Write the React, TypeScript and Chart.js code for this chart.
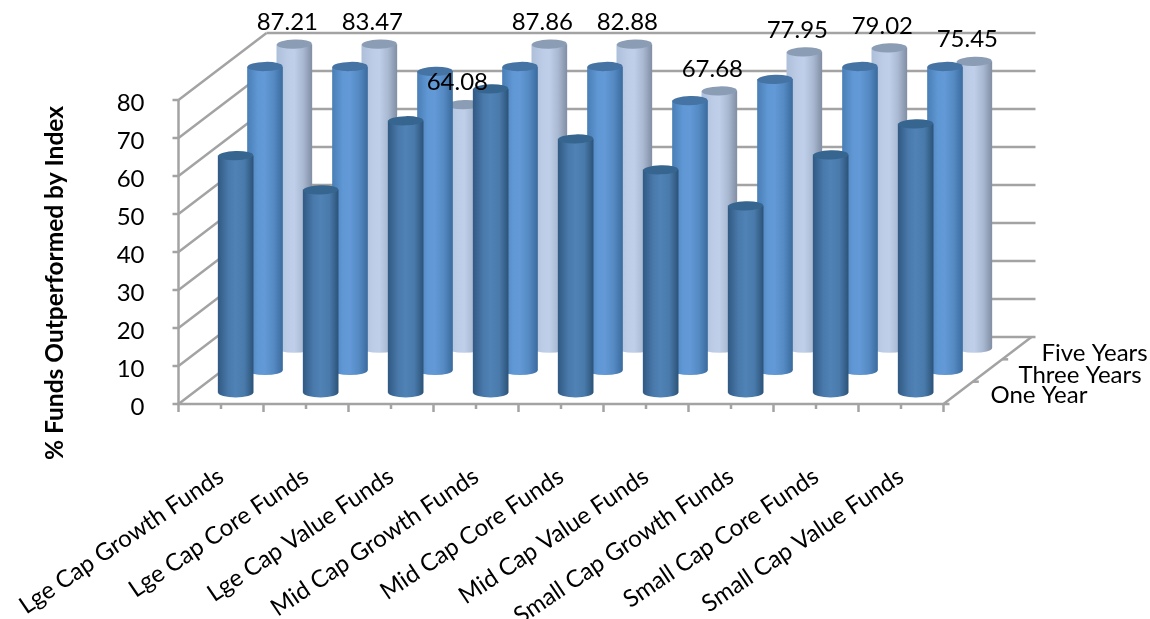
import React, { useEffect, useRef } from "react";
import { Chart, registerables } from "chart.js";

Chart.register(...registerables);

const categories = [
  "Lge Cap Growth Funds",
  "Lge Cap Core Funds",
  "Lge Cap Value Funds",
  "Mid Cap Growth Funds",
  "Mid Cap Core Funds",
  "Mid Cap Value Funds",
  "Small Cap Growth Funds",
  "Small Cap Core Funds",
  "Small Cap Value Funds",
];
const oneYear = [62.4, 53.4, 71.6, 80.0, 66.8, 58.7, 49.2, 62.6, 70.8];
const threeYears = [80.0, 80.0, 78.7, 80.0, 80.0, 71.0, 76.6, 80.0, 80.0];
const fiveYears = [87.21, 83.47, 64.08, 87.86, 82.88, 67.68, 77.95, 79.02, 75.45];

const FONT = "Lato";
const GRID = "#a3a3a3";
const TEXT = "#000000";
const AXIS_MAX = 80;
const AXIS_STEP = 10;

// Oblique depth of the floor: full depth vector, split evenly over three rows.
const DEPTH_X = 88;
const DEPTH_Y = -67;
const ROWS = 3;
const BAR_WIDTH = 35;
const CAP_RY = 4.6;

const rowPalettes = [
  { stops: ["#315a84", "#4a7aac", "#5082b6", "#497aab", "#2d5479"], cap: "#36658f" },
  { stops: ["#4a7fb6", "#6098d5", "#6299d6", "#558ac3", "#3b6c9f"], cap: "#4473a4" },
  { stops: ["#aebfda", "#bccce7", "#c0cfe9", "#aab9d2", "#828fa5"], cap: "#8b9db5" },
];

const rowOffset = (row: number) => ({
  dx: (DEPTH_X * (row + 0.5)) / ROWS,
  dy: (DEPTH_Y * (row + 0.5)) / ROWS,
});

const cylinderGradient = (c: CanvasRenderingContext2D, x: number, row: number) => {
  const g = c.createLinearGradient(x - BAR_WIDTH / 2, 0, x + BAR_WIDTH / 2, 0);
  const stops = rowPalettes[row].stops;
  [0, 0.3, 0.5, 0.75, 1].forEach((t, i) => g.addColorStop(t, stops[i]));
  return g;
};

// Shifts each series back along the depth axis and adds the round ends of its cylinders.
const depthRows = {
  id: "depthRows",
  beforeDatasetDraw(chart: any, args: any) {
    const { dx, dy } = rowOffset(args.index);
    const c = chart.ctx as CanvasRenderingContext2D;
    c.save();
    c.translate(dx, dy);
    // Shade every cylinder across its final on-screen width.
    args.meta.data.forEach((bar: any) => {
      bar.options.backgroundColor = cylinderGradient(c, bar.x, args.index);
    });
  },
  afterDatasetDraw(chart: any, args: any) {
    const c = chart.ctx as CanvasRenderingContext2D;
    const row = args.index;
    const yScale = chart.scales.y;
    args.meta.data.forEach((bar: any, i: number) => {
      const value = chart.data.datasets[row].data[i] as number;
      const top = yScale.getPixelForValue(Math.min(value, AXIS_MAX));
      const base = yScale.getPixelForValue(0);
      c.fillStyle = bar.options.backgroundColor;
      c.beginPath();
      c.ellipse(bar.x, base, BAR_WIDTH / 2, CAP_RY, 0, 0, 2 * Math.PI);
      c.fill();
      c.fillStyle = rowPalettes[row].cap;
      c.beginPath();
      c.ellipse(bar.x, top, BAR_WIDTH / 2, CAP_RY, -0.03, 0, 2 * Math.PI);
      c.fill();
    });
    c.restore();
  },
};

// Side wall, back wall, floor edges and tick marks of the 3-D frame.
const frame = {
  id: "frame",
  beforeDraw(chart: any) {
    // Nudge the value-axis labels so their digits sit centred on the tick marks.
    chart.scales.y.getLabelItems().forEach((item: any) => {
      if (!item.options.nudged) {
        item.options.translation[1] += 3;
        item.options.nudged = true;
      }
    });
  },
  beforeDatasetsDraw(chart: any) {
    const c = chart.ctx as CanvasRenderingContext2D;
    const { left, right, bottom } = chart.chartArea;
    const yScale = chart.scales.y;
    const segment = (x1: number, y1: number, x2: number, y2: number) => {
      c.beginPath();
      c.moveTo(x1, y1);
      c.lineTo(x2, y2);
      c.stroke();
    };
    c.save();
    c.strokeStyle = GRID;
    c.lineWidth = 2.5;
    for (let v = 0; v <= AXIS_MAX; v += AXIS_STEP) {
      const y = yScale.getPixelForValue(v);
      segment(left - 6, y, left, y);
      segment(left, y, left + DEPTH_X, y + DEPTH_Y);
      segment(left + DEPTH_X, y + DEPTH_Y, right + DEPTH_X + 4, y + DEPTH_Y);
    }
    segment(left, yScale.getPixelForValue(AXIS_MAX), left, bottom + 1);
    segment(left - 1, bottom, right + 6, bottom);
    segment(right, bottom, right + DEPTH_X, bottom + DEPTH_Y);
    const step = (right - left) / (categories.length * 2);
    for (let i = 0; i <= categories.length * 2; i++) {
      segment(left + i * step, bottom, left + i * step, bottom + (i % 2 === 0 ? 8 : 5));
    }
    for (let r = 1; r < ROWS; r++) {
      const x = right + (DEPTH_X * r) / ROWS;
      const y = bottom + (DEPTH_Y * r) / ROWS;
      segment(x, y, x + 6, y);
    }
    c.restore();
  },
};

// Value labels for the back row, the depth-axis names and the value-axis title.
const annotations = {
  id: "annotations",
  afterDatasetsDraw(chart: any) {
    const c = chart.ctx as CanvasRenderingContext2D;
    const { right, bottom } = chart.chartArea;
    const yScale = chart.scales.y;
    c.save();
    c.fillStyle = TEXT;
    c.font = `24px ${FONT}`;
    c.textBaseline = "middle";
    c.textAlign = "center";
    const back = ROWS - 1;
    const { dx, dy } = rowOffset(back);
    chart.getDatasetMeta(back).data.forEach((bar: any, i: number) => {
      const value = fiveYears[i];
      const y = yScale.getPixelForValue(Math.min(value, AXIS_MAX));
      c.fillText(value.toFixed(2), bar.x + dx - 7, y + dy - 22);
    });
    c.textAlign = "left";
    const depthLabelX = [47, 75, 98];
    const depthLabelY = [-9, -29, -51];
    chart.data.datasets.forEach((d: any, r: number) => {
      c.fillText(d.label, right + depthLabelX[r], bottom + depthLabelY[r]);
    });
    c.textAlign = "center";
    c.font = `bold 24.5px ${FONT}`;
    c.translate(55, 283);
    c.rotate(-Math.PI / 2);
    c.fillText("% Funds Outperformed by Index", 0, 0);
    c.restore();
  },
};

const cylinderSeries = (label: string, data: number[], row: number) => ({
  label,
  data,
  grouped: false,
  barThickness: BAR_WIDTH,
  borderWidth: 0,
  backgroundColor: () => rowPalettes[row].stops[2],
});

export default function App() {
  const ref = useRef<HTMLCanvasElement>(null);

  useEffect(() => {
    const chart = new Chart(ref.current!, {
      type: "bar",
      data: {
        labels: categories,
        datasets: [
          cylinderSeries("One Year", oneYear, 0),
          cylinderSeries("Three Years", threeYears, 1),
          cylinderSeries("Five Years", fiveYears, 2),
        ],
      },
      options: {
        responsive: false,
        animation: false,
        layout: { padding: { top: 100, right: 206.5, left: 0, bottom: 0 } },
        plugins: { legend: { display: false }, tooltip: { enabled: false } },
        scales: {
          x: {
            grid: { display: false },
            border: { display: false },
            afterFit: (s: any) => {
              // Long slanted labels may run past the plot edge without moving it.
              s.height = 215;
              s.paddingLeft = 0;
              s.paddingRight = 0;
            },
            ticks: {
              autoSkip: false,
              minRotation: 34,
              maxRotation: 34,
              padding: 50,
              color: TEXT,
              font: { family: FONT, size: 24 },
            },
          },
          y: {
            min: 0,
            max: AXIS_MAX,
            grid: { display: false },
            border: { display: false },
            afterFit: (s: any) => {
              s.width = 178.5;
              s.paddingTop = 0;
              s.paddingBottom = 0;
            },
            ticks: {
              stepSize: AXIS_STEP,
              padding: 26,
              color: TEXT,
              font: { family: FONT, size: 24 },
            },
          },
        },
      },
      plugins: [frame, depthRows, annotations],
    });
    return () => chart.destroy();
  }, []);

  return (
    <canvas
      ref={ref}
      width={1150}
      height={619}
      style={{ position: "fixed", left: 0, top: 0, display: "block" }}
    />
  );
}
